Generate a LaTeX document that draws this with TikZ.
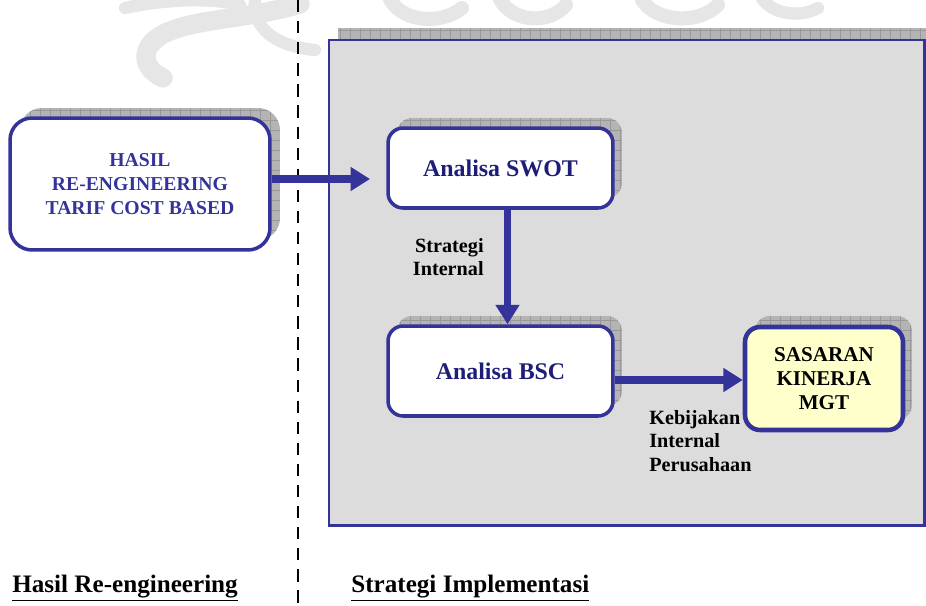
\documentclass[tikz,border=0pt]{standalone}
\usepackage{fontspec}
\setmainfont{Liberation Serif}
\usetikzlibrary{arrows.meta,calc}

\definecolor{navy}{HTML}{333399}
\definecolor{textnavy}{HTML}{1E1E78}
\definecolor{panel}{HTML}{DCDCDC}
\definecolor{paleyellow}{HTML}{FFFFCC}
\definecolor{shadowfill}{HTML}{B4B4B4}
\definecolor{shadowgrid}{HTML}{999999}
\definecolor{watermark}{HTML}{E6E6E6}

\tikzset{
  box/.style={draw=navy, line width=2pt, fill=white, rounded corners=0.3cm,
    align=center, inner sep=0pt, font=\bfseries},
  flow/.style={draw=navy, line width=4pt,
    -{Triangle[length=11pt,width=13pt]}},
  note/.style={font=\bfseries\fontsize{11.5}{13.4}\selectfont, inner sep=0pt},
  caption/.style={font=\bfseries\fontsize{14.3}{16}\selectfont, inner sep=0pt, anchor=base west},
  blot/.style={draw=watermark, line cap=round, line join=round},
}

% hatched drop shadow: x1 y1 x2 y2 radius (pixel units)
\newcommand{\gridshadow}[5]{%
  \begin{scope}
    \path[clip, rounded corners=#5] (#1,#2) rectangle (#3,#4);
    \fill[shadowfill] (#1,#2) rectangle (#3,#4);
    \draw[shadowgrid, line width=0.3pt, step=0.2cm] (#1,#2) grid (#3,#4);
  \end{scope}}

\begin{document}
\begin{tikzpicture}[x=0.02cm, y=-0.02cm]
  \useasboundingbox (0,0) rectangle (926,605);
  \fill[white] (0,0) rectangle (926,605);

  % faint emblem in the background
  \draw[blot, line width=11pt] (300,4) .. controls (240,22) and (170,18) .. (150,45)
     .. controls (140,60) and (150,72) .. (163,78);
  \draw[blot, line width=7pt] (125,8) .. controls (160,0) and (210,-3) .. (240,5);
  \draw[blot, line width=7pt] (255,0) .. controls (252,28) and (275,46) .. (315,50);
  \draw[blot, line width=8pt] (388,-5) .. controls (398,22) and (440,26) .. (462,8);
  \draw[blot, line width=8pt] (498,-5) .. controls (508,22) and (548,26) .. (566,5);
  \draw[blot, line width=8pt] (642,0) .. controls (656,22) and (698,25) .. (718,5);
  \draw[blot, line width=7pt] (760,-5) .. controls (770,15) and (800,18) .. (818,8);

  % separator between the two sections
  \coordinate (septop) at (298,0);
  \coordinate (sepbot) at (298,605);
  \draw[black, line width=1.4pt, dash pattern=on 7pt off 5pt] (septop) -- (sepbot);

  % implementation panel
  \gridshadow{338}{28}{940}{515}{0}
  \fill[panel] (329,40) rectangle (924,525);
  \draw[navy, line width=1.7pt] (329,40) rectangle (924,525);

  % shadows of the boxes
  \gridshadow{20}{108}{280}{240}{0.44cm}
  \gridshadow{397}{118}{622}{198}{0.3cm}
  \gridshadow{397}{316}{622}{406}{0.3cm}
  \gridshadow{755}{316}{912}{420}{0.3cm}

  % boxes
  \node[box, rounded corners=0.44cm, minimum width=5.2cm, minimum height=2.64cm,
        text=navy, font=\bfseries\fontsize{11.2}{13.6}\selectfont]
        (hasil) at (140,184) {HASIL\\RE-ENGINEERING\\TARIF COST BASED};
  \node[box, minimum width=4.5cm, minimum height=1.6cm, text=textnavy,
        font=\bfseries\fontsize{13.6}{16}\selectfont]
        (swot) at (500.5,168) {Analisa SWOT};
  \node[box, minimum width=4.5cm, minimum height=1.8cm, text=textnavy,
        font=\bfseries\fontsize{13.6}{16}\selectfont]
        (bsc) at (500.5,371) {Analisa BSC};
  \node[box, fill=paleyellow, line width=2.6pt, minimum width=3.16cm, minimum height=2.06cm,
        font=\bfseries\fontsize{12}{13.6}\selectfont]
        (sasaran) at (824,378.5) {SASARAN\\KINERJA\\MGT};

  % connectors
  \coordinate (hasilout) at ($(hasil.east)+(0,-5)$);
  \coordinate (swotin) at (370,179);
  \draw[flow] (hasilout) -- (swotin);

  \coordinate (swotout) at ($(swot.south)+(7,0)$);
  \draw[flow] (swotout) -- (swotout |- bsc.north);

  \coordinate (bscout) at ($(bsc.east)+(0,9)$);
  \draw[flow] (bscout) -- (bscout -| sasaran.west);

  % connector labels
  \node[note, align=right, anchor=east] (lblstrat) at (484,257) {Strategi\\Internal};
  \node[note, align=left, anchor=north west] (lblkeb) at (649,410) {Kebijakan\\Internal\\Perusahaan};

  % section captions
  \node[caption] (caphasil) at (12,592) {\underline{Hasil Re-engineering}};
  \node[caption] (capstrat) at (351,592) {\underline{Strategi Implementasi}};
\end{tikzpicture}
\end{document}
